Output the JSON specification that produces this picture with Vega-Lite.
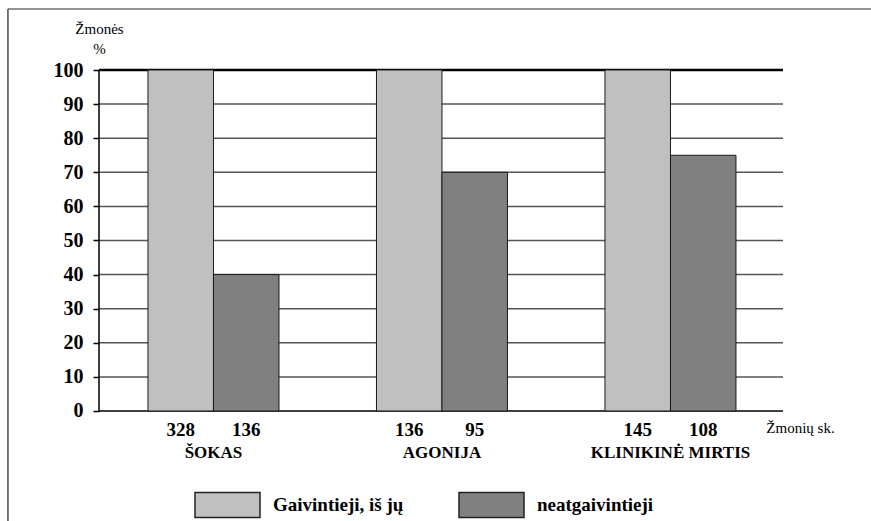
{
  "$schema": "https://vega.github.io/schema/vega-lite/v6.json",
  "width": 863,
  "height": 512,
  "autosize": {"type": "none"},
  "padding": {"left": 8, "top": 9, "right": 0, "bottom": 0},
  "background": "white",
  "config": {
    "view": {"stroke": null},
    "font": "'Liberation Serif', 'DejaVu Serif', serif",
    "axis": {"labelFont": "'Liberation Serif', 'DejaVu Serif', serif", "titleFont": "'Liberation Serif', 'DejaVu Serif', serif"},
    "legend": {"labelFont": "'Liberation Serif', 'DejaVu Serif', serif"},
    "text": {"font": "'Liberation Serif', 'DejaVu Serif', serif"}
  },
  "datasets": {
    "bars": [
      {"group": "ŠOKAS", "series": "Gaivintieji, iš jų", "value": 100, "count": 328},
      {"group": "ŠOKAS", "series": "neatgaivintieji", "value": 40, "count": 136},
      {"group": "AGONIJA", "series": "Gaivintieji, iš jų", "value": 100, "count": 136},
      {"group": "AGONIJA", "series": "neatgaivintieji", "value": 70, "count": 95},
      {"group": "KLINIKINĖ MIRTIS", "series": "Gaivintieji, iš jų", "value": 100, "count": 145},
      {"group": "KLINIKINĖ MIRTIS", "series": "neatgaivintieji", "value": 75, "count": 108}
    ],
    "grid": [
      {"v": 0}, {"v": 10}, {"v": 20}, {"v": 30}, {"v": 40}, {"v": 50},
      {"v": 60}, {"v": 70}, {"v": 80}, {"v": 90}, {"v": 100}
    ],
    "one": [{"k": 1}]
  },
  "layer": [
    {
      "data": {"name": "bars"},
      "mark": {"type": "bar", "opacity": 0},
      "encoding": {
        "x": {
          "field": "group",
          "type": "nominal",
          "sort": ["ŠOKAS", "AGONIJA", "KLINIKINĖ MIRTIS"],
          "scale": {"type": "band", "domain": ["ŠOKAS", "AGONIJA", "KLINIKINĖ MIRTIS"], "paddingInner": 0.4267, "paddingOuter": 0.6018, "align": 0.509},
          "axis": {
            "orient": "bottom",
            "offset": -110,
            "domain": false,
            "ticks": false,
            "tickSize": 0,
            "labelPadding": 41,
            "labelAngle": 0,
            "labelAlign": "center",
            "labelFontSize": 17,
            "labelFontWeight": "bold",
            "labelBaseline": "middle",
            "labelColor": "#000000",
            "title": "Žmonių sk.",
            "titleX": 792,
            "titleY": 16,
            "titleAlign": "center",
            "titleAnchor": null,
            "titleBaseline": "middle",
            "titleFontWeight": "normal",
            "titleFontSize": 15,
            "titleColor": "#000000"
          }
        },
        "xOffset": {
          "field": "series",
          "type": "nominal",
          "scale": {"domain": ["Gaivintieji, iš jų", "neatgaivintieji"], "paddingInner": 0, "paddingOuter": 0}
        },
        "y": {
          "field": "value",
          "type": "quantitative",
          "stack": null,
          "scale": {"domain": [-32.26, 117.89], "nice": false, "zero": false},
          "axis": {
            "orient": "left",
            "offset": -91,
            "values": [0, 10, 20, 30, 40, 50, 60, 70, 80, 90, 100],
            "domain": false,
            "grid": false,
            "ticks": true,
            "tickSize": 6,
            "tickColor": "#000000",
            "tickWidth": 1.5,
            "labelPadding": 10,
            "labelFontSize": 20,
            "labelFontWeight": "bold",
            "labelColor": "#000000",
            "title": ["Žmonės", "%"],
            "titleAngle": 0,
            "titleAlign": "center",
            "titleAnchor": null,
            "titleBaseline": "alphabetic",
            "titleX": 0,
            "titleY": 24,
            "titleLineHeight": 20,
            "titleFontWeight": "normal",
            "titleFontSize": 15,
            "titleColor": "#000000"
          }
        },
        "y2": {"datum": 0}
      }
    },
    {
      "data": {"name": "one"},
      "mark": {"type": "rule", "color": "#6e6e6e", "strokeWidth": 1.5},
      "encoding": {
        "y": {"datum": 117.89, "type": "quantitative"}
      }
    },
    {
      "data": {"name": "one"},
      "mark": {"type": "rule", "color": "#4a4a4a", "strokeWidth": 1.5},
      "encoding": {
        "x": {"datum": "ŠOKAS", "type": "nominal", "bandPosition": -1.069}
      }
    },
    {
      "data": {"name": "grid"},
      "mark": {"type": "rule"},
      "encoding": {
        "y": {"field": "v", "type": "quantitative"},
        "x": {"datum": "ŠOKAS", "type": "nominal", "bandPosition": -0.374},
        "x2": {"datum": "KLINIKINĖ MIRTIS", "bandPosition": 1.359},
        "color": {"condition": {"test": "datum.v == 0 || datum.v == 100", "value": "#000000"}, "value": "#555555"},
        "strokeWidth": {"condition": {"test": "datum.v == 100", "value": 2.5}, "value": 1.5}
      }
    },
    {
      "data": {"name": "one"},
      "mark": {"type": "rule", "color": "#000000", "strokeWidth": 1.5},
      "encoding": {
        "x": {"datum": "ŠOKAS", "type": "nominal", "bandPosition": -0.374},
        "y": {"datum": 0, "type": "quantitative"},
        "y2": {"datum": 100}
      }
    },
    {
      "data": {"name": "bars"},
      "mark": {"type": "bar", "stroke": "#1a1a1a", "strokeWidth": 1},
      "encoding": {
        "x": {"field": "group", "type": "nominal", "sort": ["ŠOKAS", "AGONIJA", "KLINIKINĖ MIRTIS"]},
        "xOffset": {"field": "series", "type": "nominal"},
        "y": {"field": "value", "type": "quantitative", "stack": null},
        "y2": {"datum": 0},
        "color": {
          "field": "series",
          "type": "nominal",
          "scale": {"domain": ["Gaivintieji, iš jų", "neatgaivintieji"], "range": ["#c0c0c0", "#808080"]},
          "legend": {
            "orient": "none",
            "direction": "horizontal",
            "legendX": 186,
            "legendY": 462,
            "title": null,
            "padding": 0,
            "symbolType": "M-1,-0.385H1V0.385H-1Z",
            "symbolSize": 4225,
            "symbolStrokeColor": "#222222",
            "symbolStrokeWidth": 1.5,
            "symbolOpacity": 1,
            "labelFontWeight": "bold",
            "labelFontSize": 19,
            "labelColor": "#000000",
            "labelOffset": 12,
            "columnPadding": 52,
            "labelLimit": 300
          }
        }
      }
    },
    {
      "data": {"name": "bars"},
      "mark": {"type": "text", "dy": 19, "baseline": "middle", "align": "center", "fontWeight": "bold", "fontSize": 19, "color": "#000000"},
      "encoding": {
        "x": {"field": "group", "type": "nominal", "sort": ["ŠOKAS", "AGONIJA", "KLINIKINĖ MIRTIS"]},
        "xOffset": {"field": "series", "type": "nominal"},
        "y": {"datum": 0, "type": "quantitative"},
        "text": {"field": "count", "type": "quantitative"}
      }
    }
  ]
}
